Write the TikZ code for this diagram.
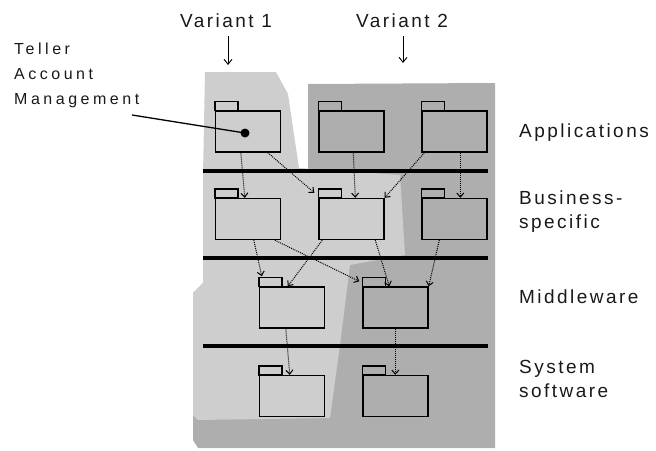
\documentclass[tikz,border=0pt]{standalone}
\usepackage{fontspec}
\setmainfont{Liberation Sans}
\newfontfamily\lblfont[LetterSpace=13]{Liberation Sans}
\newfontfamily\smallfont[LetterSpace=22]{Liberation Sans}
\usetikzlibrary{calc,arrows.meta}
\definecolor{shadelight}{HTML}{CECECE}
\definecolor{shadedark}{HTML}{AEAEAE}
\tikzset{
  pkg/.style={draw=black, line width=1.4pt, minimum width=65pt, minimum height=41pt, inner sep=0pt},
  tabline/.style={draw=black, line width=1.4pt},
  dep/.style={densely dotted, line width=1pt, -{Straight Barb[length=4pt,width=7pt]}},
  varrow/.style={line width=0.9pt, -{Straight Barb[length=5pt,width=8pt]}},
  layer/.style={line width=4.2pt},
  lbl/.style={font=\lblfont\fontsize{19}{24}\selectfont, inner sep=0pt, align=left, text=black!90},
  small/.style={font=\smallfont\fontsize{16}{25}\selectfont, inner sep=0pt, align=left, text=black!90},
}
\newcommand\pkgtab[1]{\draw[tabline] (#1.north west) rectangle ++(23,-9);}
\begin{document}
\begin{tikzpicture}[x=1pt,y=-1pt]
\useasboundingbox (0,0) rectangle (656,450);
% shaded regions
\fill[shadedark] (308,84) -- (495,83) -- (495,448) -- (198,448) -- (193,440) -- (193,293) -- (203,283) -- (203,172) -- (308,172) -- cycle;
\fill[shadelight] (205,72) -- (276,72) -- (288,94) -- (299,168) -- (400,175) -- (405,255) -- (350,265) -- (340,345) -- (330,418) -- (198,420) -- (193,415) -- (193,293) -- (203,283) -- (203,175) -- cycle;
% layer lines
\coordinate (l1w) at (203,171); \coordinate (l1e) at (488,171);
\coordinate (l2w) at (203,258); \coordinate (l2e) at (488,258);
\coordinate (l3w) at (203,346); \coordinate (l3e) at (488,346);
\draw[layer] (l1w) -- (l1e);
\draw[layer] (l2w) -- (l2e);
\draw[layer] (l3w) -- (l3e);
% packages
\node[pkg] (a1) at (248,131.5) {};
\node[pkg] (a2) at (351.5,131.5) {};
\node[pkg] (a3) at (454.5,131.5) {};
\node[pkg] (b1) at (248,219) {};
\node[pkg] (b2) at (351.5,219) {};
\node[pkg] (b3) at (454.5,219) {};
\node[pkg] (m1) at (292,307.5) {};
\node[pkg] (m2) at (395.5,307.5) {};
\node[pkg] (s1) at (292,396) {};
\node[pkg] (s2) at (395.5,396) {};
\pkgtab{a1}\pkgtab{a2}\pkgtab{a3}
\pkgtab{b1}\pkgtab{b2}\pkgtab{b3}
\pkgtab{m1}\pkgtab{m2}
\pkgtab{s1}\pkgtab{s2}
% dependencies
\draw[dep] ($(a1.south west)+(26,0)$) -- ($(b1.north west)+(30,0)$);
\draw[dep] ($(a1.south west)+(53,0)$) -- ($(b2.north west)+(-4,-5)$);
\draw[dep] ($(a2.south west)+(35,0)$) -- ($(b2.north west)+(37,0)$);
\draw[dep] ($(a3.south west)+(3,0)$) -- (b2.north east);
\draw[dep] ($(a3.south west)+(39,0)$) -- ($(b3.north west)+(39,0)$);
\draw[dep] ($(b1.south west)+(39,0)$) -- ($(m1.north west)+(3,-10)$);
\draw[dep] ($(b1.south west)+(60,0)$) -- ($(m2.north west)+(-3,-5)$);
\draw[dep] ($(b2.south west)+(4,0)$) -- ($(m1.north west)+(29,0)$);
\draw[dep] ($(b2.south west)+(57,0)$) -- ($(m2.north west)+(27,0)$);
\draw[dep] ($(b3.south west)+(18,0)$) -- (m2.north east);
\draw[dep] ($(m1.south west)+(27,0)$) -- ($(s1.north west)+(31,0)$);
\draw[dep] ($(m2.south west)+(33,0)$) -- ($(s2.north west)+(33,0)$);
% variant labels
\node[lbl, anchor=center] (v1) at (226,21) {Variant 1};
\node[lbl, anchor=center] (v2) at (402,21) {Variant 2};
\coordinate (v1end) at (228,65);
\coordinate (v2end) at (403,63);
\draw[varrow] ($(v1.south)+(2,8)$) -- (v1end);
\draw[varrow] ($(v2.south)+(1,8)$) -- (v2end);
% teller label
\node[small, anchor=north west] (tam) at (14,43) {Teller\\Account\\Management};
\coordinate (lstart) at (132,115);
\coordinate (tdot) at (245,133);
\fill (tdot) circle (4.5);
\draw[line width=1.3pt] (lstart) -- (tdot);
% layer labels
\node[lbl, anchor=west] (app) at (519,133) {Applications};
\node[lbl, anchor=west] (bus) at (519,212) {Business-\\specific};
\node[lbl, anchor=west] (mid) at (519,297) {Middleware};
\node[lbl, anchor=west] (sys) at (519,379) {System\\software};
\end{tikzpicture}
\end{document}
